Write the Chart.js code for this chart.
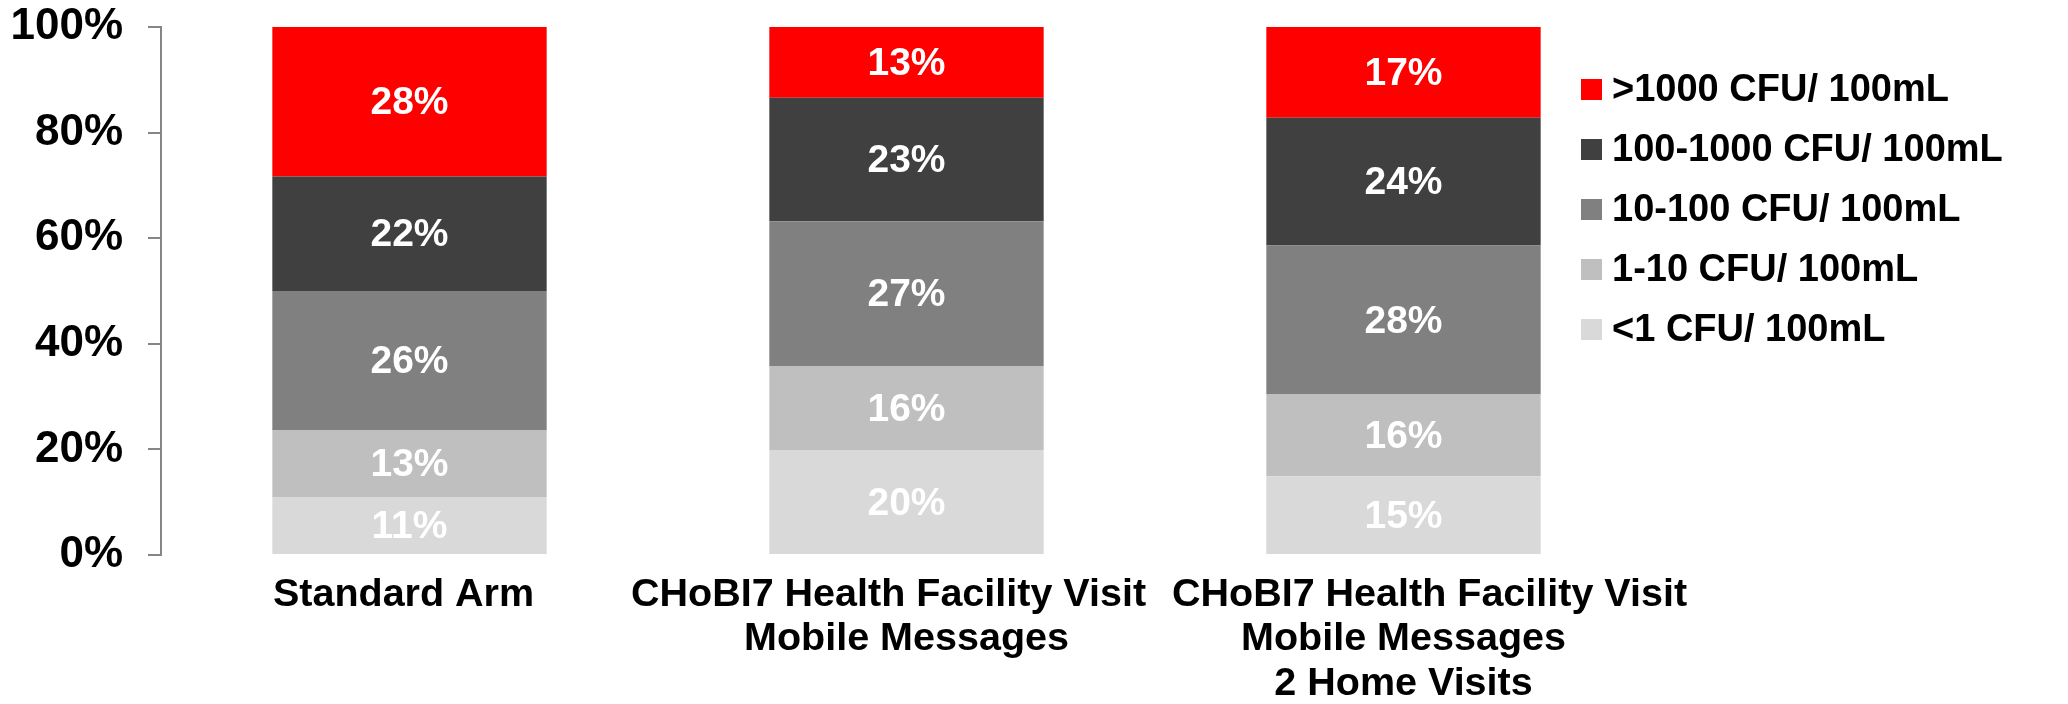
<!DOCTYPE html>
<html>
<head>
<meta charset="utf-8">
<script src="https://cdn.jsdelivr.net/npm/chart.js@4"></script>
<style>
  html, body { margin: 0; padding: 0; background: #fff; }
  #wrap { width: 2068px; height: 704px; }
</style>
</head>
<body>
<div id="wrap"><canvas id="chartCFU"></canvas></div>
<script>
// categorias (eixo x)
const categorias = [
    ['Standard Arm'],
    ['CHoBI7 Health Facility Visit', 'Mobile Messages'],
    ['CHoBI7 Health Facility Visit', 'Mobile Messages', '2 Home Visits']
];

// séries, de baixo para cima (%)
const serieMenos1 = [11, 19.9, 14.9];
const serie1a10 = [12.6, 15.9, 15.5];
const serie10a100 = [26.4, 27.4, 28.2];
const serie100a1000 = [21.7, 23.4, 24.2];
const serieMais1000 = [28.3, 13.4, 17.2];

const nomesSeries = ['<1 CFU/ 100mL', '1-10 CFU/ 100mL', '10-100 CFU/ 100mL', '100-1000 CFU/ 100mL', '>1000 CFU/ 100mL'];
const coresSeries = ['#d9d9d9', '#bfbfbf', '#808080', '#404040', '#ff0000'];

const ticksY = [0, 20, 40, 60, 80, 100];

const FONTE = "'Liberation Sans', Arial, sans-serif";

// rótulos brancos no meio de cada segmento
const rotulosPlugin = {
    id: 'rotulos',
    afterDatasetsDraw(chart) {
        const ctx = chart.ctx;
        ctx.save();
        ctx.font = 'bold 39px ' + FONTE;
        ctx.fillStyle = '#ffffff';
        ctx.textAlign = 'center';
        ctx.textBaseline = 'middle';
        chart.data.datasets.forEach((ds, i) => {
            chart.getDatasetMeta(i).data.forEach((bar, j) => {
                const y = (bar.y + bar.base) / 2;
                ctx.fillText(Math.round(ds.data[j]) + '%', bar.x, y + 2);
            });
        });
        ctx.restore();
    }
};

// nomes das categorias: a 1a linha longa fica deslocada como no original
const deslocLinha1 = [-6, -18, 26];
const categoriasPlugin = {
    id: 'categorias',
    afterDraw(chart) {
        const ctx = chart.ctx;
        const x = chart.scales.x;
        ctx.save();
        ctx.font = 'bold 39.5px ' + FONTE;
        ctx.fillStyle = '#000000';
        ctx.textAlign = 'center';
        ctx.textBaseline = 'middle';
        categorias.forEach((linhas, i) => {
            const cx = x.getPixelForTick(i);
            linhas.forEach((txt, j) => {
                const dx = j === 0 ? deslocLinha1[i] : 0;
                ctx.fillText(txt, cx + dx, x.top + 40 + j * 44.5);
            });
        });
        ctx.restore();
    }
};

// legenda desenhada à mão (fica por cima da área do gráfico)
const legendaPlugin = {
    id: 'legendaManual',
    afterDraw(chart) {
        const ctx = chart.ctx;
        ctx.save();
        ctx.font = 'bold 38px ' + FONTE;
        ctx.textBaseline = 'middle';
        ctx.textAlign = 'left';
        const n = chart.data.datasets.length;
        for (let k = 0; k < n; k++) {
            const ds = chart.data.datasets[n - 1 - k];
            const cy = 89 + k * 60;
            ctx.fillStyle = ds.backgroundColor;
            ctx.fillRect(1581, cy - 10, 21, 21);
            ctx.fillStyle = '#000000';
            ctx.fillText(ds.label, 1612, cy + 2);
        }
        ctx.restore();
    }
};

const datasets = [serieMenos1, serie1a10, serie10a100, serie100a1000, serieMais1000].map((d, i) => ({
    label: nomesSeries[i],
    data: d,
    backgroundColor: coresSeries[i],
    borderWidth: 0,
    categoryPercentage: 1,
    barPercentage: 0.552
}));

new Chart(document.getElementById('chartCFU'), {
    type: 'bar',
    data: { labels: categorias, datasets: datasets },
    plugins: [rotulosPlugin, categoriasPlugin, legendaPlugin],
    options: {
        responsive: true,
        maintainAspectRatio: false,
        animation: false,
        layout: { padding: { left: 0, right: 416, top: 27, bottom: 0 } },
        plugins: {
            legend: { display: false },
            tooltip: { enabled: false }
        },
        scales: {
            x: {
                stacked: true,
                grid: { display: false, drawTicks: false },
                border: { display: false },
                ticks: { display: false },
                afterFit(scale) { scale.height = 149; }
            },
            y: {
                stacked: true,
                min: 0,
                max: 100,
                afterBuildTicks(scale) { scale.ticks = ticksY.map(v => ({ value: v })); },
                grid: {
                    drawOnChartArea: false,
                    drawTicks: true,
                    tickLength: 13,
                    color: '#868686',
                    lineWidth: 2
                },
                border: { display: true, color: '#868686', width: 2 },
                ticks: {
                    color: '#000',
                    padding: 25,
                    callback: v => v + '%',
                    font: { family: FONTE, size: 44, weight: 'bold' }
                },
                afterFit(scale) {
                    scale.width = 161;
                    scale.paddingTop = 0;
                    scale.paddingBottom = 0;
                }
            }
        }
    }
});
</script>
</body>
</html>
